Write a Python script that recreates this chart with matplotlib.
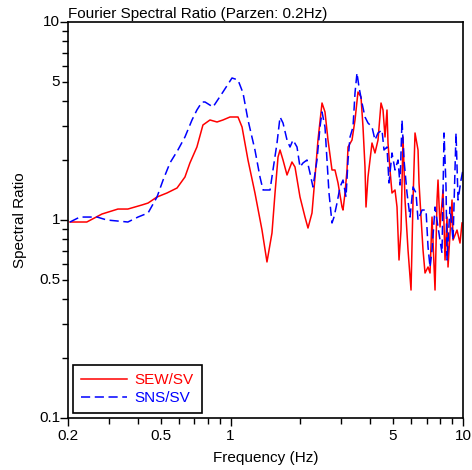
import numpy as np
import matplotlib
matplotlib.use("Agg")
import matplotlib.pyplot as plt
from matplotlib.ticker import FixedLocator, NullFormatter

plt.rcParams['font.family'] = ['Liberation Sans', 'DejaVu Sans']

# SEW/SV (red, solid)
f_ew = [0.204, 0.241, 0.280, 0.328, 0.362, 0.416, 0.442, 0.483, 0.533, 0.589,
        0.637, 0.669, 0.717, 0.761, 0.816, 0.875, 0.928, 0.995, 1.077, 1.121,
        1.189, 1.274, 1.366, 1.435, 1.508, 1.554, 1.601, 1.633, 1.682, 1.750,
        1.838, 1.894, 1.990, 2.091, 2.154, 2.241, 2.309, 2.378, 2.475, 2.549,
        2.626, 2.732, 2.814, 2.900, 3.017, 3.047, 3.108, 3.170, 3.202, 3.331,
        3.431, 3.534, 3.641, 3.714, 3.788, 3.826, 3.902, 4.060, 4.182, 4.309,
        4.439, 4.528, 4.618, 4.710, 4.757, 4.852, 4.949, 5.099, 5.201, 5.305,
        5.411, 5.519, 5.630, 5.800, 5.975, 6.095, 6.216, 6.404, 6.467, 6.597,
        6.729, 6.864, 7.071, 7.212, 7.356, 7.578, 7.730, 7.806, 7.962, 8.202,
        8.367, 8.534, 8.619, 8.968, 9.057, 9.421, 9.705, 9.899]
r_ew = [0.977, 0.977, 1.072, 1.136, 1.136, 1.191, 1.218, 1.307, 1.369, 1.451,
        1.649, 1.941, 2.337, 3.018, 3.200, 3.126, 3.200, 3.313, 3.313, 2.949,
        2.009, 1.369, 0.890, 0.614, 0.860, 1.369, 2.080, 2.257, 2.009, 1.688,
        1.963, 1.852, 1.307, 1.035, 0.911, 1.085, 1.649, 2.535, 3.898, 3.512,
        2.535, 1.789, 1.789, 1.538, 1.163, 1.123, 1.369, 1.789, 2.337, 2.535,
        3.200, 4.431, 4.180, 2.949, 1.852, 1.163, 1.649, 2.448, 2.180, 2.535,
        3.898, 3.594, 2.626, 3.594, 2.448, 1.789, 1.369, 1.418, 1.163, 0.628,
        0.890, 2.626, 1.262, 0.705, 0.443, 1.262, 2.751, 2.257, 1.538, 1.035,
        0.705, 0.540, 0.579, 0.540, 1.035, 0.443, 1.262, 1.592, 0.922, 1.418,
        0.628, 1.035, 0.579, 1.262, 0.792, 0.890, 0.765, 0.966]

# SNS/SV (blue, dashed)
f_ns = [0.204, 0.225, 0.267, 0.294, 0.362, 0.400, 0.442, 0.483, 0.513, 0.549,
        0.594, 0.637, 0.683, 0.717, 0.754, 0.777, 0.841, 0.928, 1.015, 1.077,
        1.132, 1.189, 1.274, 1.339, 1.380, 1.479, 1.523, 1.585, 1.633, 1.682,
        1.750, 1.803, 1.857, 1.932, 1.990, 2.050, 2.133, 2.197, 2.263, 2.355,
        2.426, 2.475, 2.549, 2.600, 2.652, 2.732, 2.787, 2.871, 2.958, 3.047,
        3.139, 3.202, 3.266, 3.364, 3.431, 3.499, 3.569, 3.677, 3.788, 3.902,
        4.060, 4.182, 4.309, 4.483, 4.572, 4.710, 4.804, 4.949, 5.099, 5.253,
        5.358, 5.465, 5.574, 5.742, 5.916, 6.095, 6.278, 6.404, 6.663, 6.932,
        7.071, 7.212, 7.356, 7.578, 7.806, 8.121, 8.285, 8.450, 8.534, 8.790,
        9.057, 9.330, 9.517, 9.801, 9.990]
r_ns = [0.977, 1.035, 1.035, 1.000, 0.977, 1.035, 1.085, 1.307, 1.592, 1.941,
        2.257, 2.626, 3.200, 3.594, 3.944, 3.944, 3.721, 4.431, 5.215, 5.095,
        4.379, 3.200, 2.257, 1.649, 1.418, 1.418, 1.789, 2.448, 3.313, 3.090,
        2.535, 2.337, 2.535, 2.337, 1.852, 1.941, 2.009, 1.727, 1.468, 2.009,
        2.949, 3.512, 2.949, 2.009, 1.369, 0.966, 1.035, 1.218, 1.468, 1.592,
        1.307, 2.009, 2.626, 2.949, 4.379, 5.527, 4.696, 3.898, 3.313, 3.090,
        2.949, 2.535, 2.751, 2.848, 2.257, 2.337, 1.538, 2.180, 1.789, 2.009,
        1.502, 3.200, 2.009, 1.369, 1.035, 1.468, 1.369, 1.000, 1.123, 1.123,
        0.731, 0.579, 0.705, 1.163, 0.922, 0.681, 2.751, 1.468, 0.628, 1.163,
        0.792, 2.751, 1.262, 1.592, 1.789]

tick_vals = [0.2, 0.5, 1, 5, 10]
tick_labels = ['0.2', '0.5', '1', '5', '10']
ytick_vals = [0.1, 0.5, 1, 5, 10]
ytick_labels = ['0.1', '0.5', '1', '5', '10']

fig = plt.figure(figsize=(4.72, 4.70), dpi=100)
ax = fig.add_axes([0.144, 0.1106, 0.837, 0.8426])

ax.plot(f_ew, r_ew, color='#ff0000', lw=1.1, label='SEW/SV')
ax.plot(f_ns, r_ns, color='#0000ff', lw=1.1, dashes=(6, 3), label='SNS/SV')

ax.set_xscale('log')
ax.set_yscale('log')
ax.set_xlim(0.2, 10)
ax.set_ylim(0.1, 10)

ax.xaxis.set_major_locator(FixedLocator([0.2, 1, 10]))
ax.xaxis.set_minor_locator(FixedLocator([0.3, 0.4, 0.5, 0.6, 0.7, 0.8, 0.9,
                                         2, 3, 4, 5, 6, 7, 8, 9]))
ax.yaxis.set_major_locator(FixedLocator([0.1, 1, 10]))
ax.yaxis.set_minor_locator(FixedLocator([0.2, 0.3, 0.4, 0.5, 0.6, 0.7, 0.8, 0.9,
                                         2, 3, 4, 5, 6, 7, 8, 9]))
ax.xaxis.set_major_formatter(NullFormatter())
ax.xaxis.set_minor_formatter(NullFormatter())
ax.yaxis.set_major_formatter(NullFormatter())
ax.yaxis.set_minor_formatter(NullFormatter())

for v, s in zip(tick_vals, tick_labels):
    ax.text(v, -0.028, s, transform=ax.get_xaxis_transform(), ha='center',
            va='top', fontsize=11)
for v, s in zip(ytick_vals, ytick_labels):
    ax.text(-0.02, v, s, transform=ax.get_yaxis_transform(), ha='right',
            va='center', fontsize=11)

ax.tick_params(which='major', direction='out', length=6, width=1.0)
ax.tick_params(which='minor', direction='out', length=4, width=1.0)
for sp in ax.spines.values():
    sp.set_linewidth(1.2)

ax.set_xlabel('Frequency (Hz)', fontsize=11, labelpad=14)
ax.set_ylabel('Spectral Ratio', fontsize=11, labelpad=20)
ax.set_title('Fourier Spectral Ratio (Parzen: 0.2Hz)', loc='left', fontsize=11, pad=3)

leg = ax.legend(loc='lower left', fontsize=11, handlelength=3.0, fancybox=False,
                framealpha=1, edgecolor='black', borderaxespad=0.3,
                labelspacing=0.25, handletextpad=0.5, borderpad=0.55)
leg.get_frame().set_linewidth(1.2)
for t, c in zip(leg.get_texts(), ['#ff0000', '#0000ff']):
    t.set_color(c)

fig.savefig('out.png', dpi=100)
